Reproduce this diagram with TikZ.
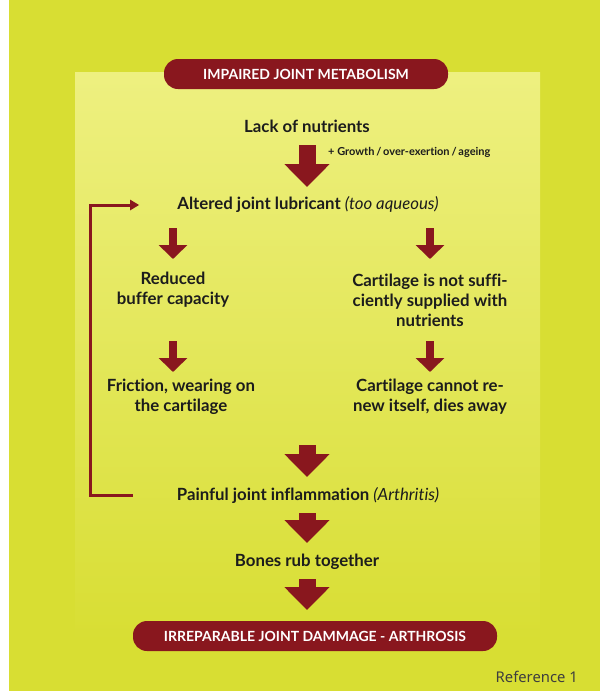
\documentclass[tikz,border=0pt]{standalone}
\usepackage{fontspec}
\setmainfont{Lato}[Ligatures=NoCommon]
\newfontfamily\reffont{Noto Sans}
\usetikzlibrary{arrows.meta}

\definecolor{bggreen}{RGB}{216,222,51}
\definecolor{panelgreen}{RGB}{238,240,128}
\definecolor{darkred}{RGB}{137,23,30}
\definecolor{inkgray}{RGB}{28,28,28}

\begin{document}
\begin{tikzpicture}[
		x=1pt, y=-1pt,
		flowtext/.style={font=\bfseries\fontsize{16.8}{20}\selectfont, text=inkgray, align=center, inner sep=0pt},
		notetext/.style={font=\bfseries\fontsize{11}{12}\selectfont, text=inkgray, inner sep=0pt},
		pill/.style={rounded corners=14pt, fill=darkred, text=white, font=\bfseries\fontsize{14}{15}\selectfont, minimum height=30pt, inner sep=0pt},
		bigarrow/.style={draw=darkred, line width=17pt, -{Triangle[width=44pt,length=23pt]}},
		smallarrow/.style={draw=darkred, line width=8pt, -{Triangle[width=28pt,length=14pt]}},
		looparrow/.style={draw=darkred, line width=3pt, -{Triangle[width=10pt,length=9pt]}}
	]
	% background and panel
	\fill[white] (0,0) rectangle (600,691);
	\fill[bggreen] (9,0) rectangle (600,691);
	\shade[top color=panelgreen, bottom color=bggreen] (75,72) rectangle (540,640);

	\node[pill, minimum width=284pt] (head) at (306,74) {IMPAIRED JOINT METABOLISM};
	\node[flowtext] (lack) at (307,126) {Lack of nutrients};
	\node[notetext, anchor=west] (extra) at (328,152) {+ Growth\,/\,over-exertion\,/\,ageing};
	\node[flowtext] (altered) at (308,205) {Altered joint lubricant \textmd{\itshape(too aqueous)}};
	\node[flowtext] (reduced) at (173,290) {Reduced\\buffer capacity};
	\node[flowtext] (supply) at (430,300) {Cartilage is not suffi-\\ciently supplied with\\nutrients};
	\node[flowtext] (friction) at (181,397) {Friction, wearing on\\the cartilage};
	\node[flowtext] (renew) at (430,397) {Cartilage cannot re-\\new itself, dies away};
	\coordinate (merge) at (307,445);
	\node[flowtext] (painful) at (308,495) {Painful joint inflammation \textmd{\itshape(Arthritis)}};
	\node[flowtext] (bones) at (307,562) {Bones rub together};
	\node[pill, minimum width=364pt] (damage) at (315,636) {IRREPARABLE JOINT DAMMAGE - ARTHROSIS};
	\node[font=\reffont\fontsize{14.8}{16}\selectfont, text=inkgray!85, anchor=east, inner sep=0pt] (ref) at (578,677) {Reference 1};

	\coordinate (loop) at (90,350);

	\draw[bigarrow, shorten <=19pt, shorten >=18pt] (lack.center) -- (altered.center -| lack);
	\draw[smallarrow, shorten <=23pt, shorten >=31pt] (reduced |- altered) -- (reduced.center);
	\draw[smallarrow, shorten <=23pt, shorten >=41pt] (supply |- altered) -- (supply.center);
	\draw[smallarrow, shorten <=51pt, shorten >=25pt] (reduced.center) -- (reduced |- renew);
	\draw[smallarrow, shorten <=41pt, shorten >=25pt] (supply.center) -- (renew.center);
	\draw[bigarrow, shorten >=18pt] (merge) -- (merge |- painful);
	\draw[bigarrow, shorten <=18pt, shorten >=19pt] (bones |- painful) -- (bones.center);
	\draw[bigarrow, shorten <=17pt, shorten >=26pt] (bones.center) -- (bones |- damage);
	\draw[looparrow, shorten <=44pt, shorten >=38pt] (painful.west) -| (loop) |- (altered.west);

\end{tikzpicture}
\end{document}
